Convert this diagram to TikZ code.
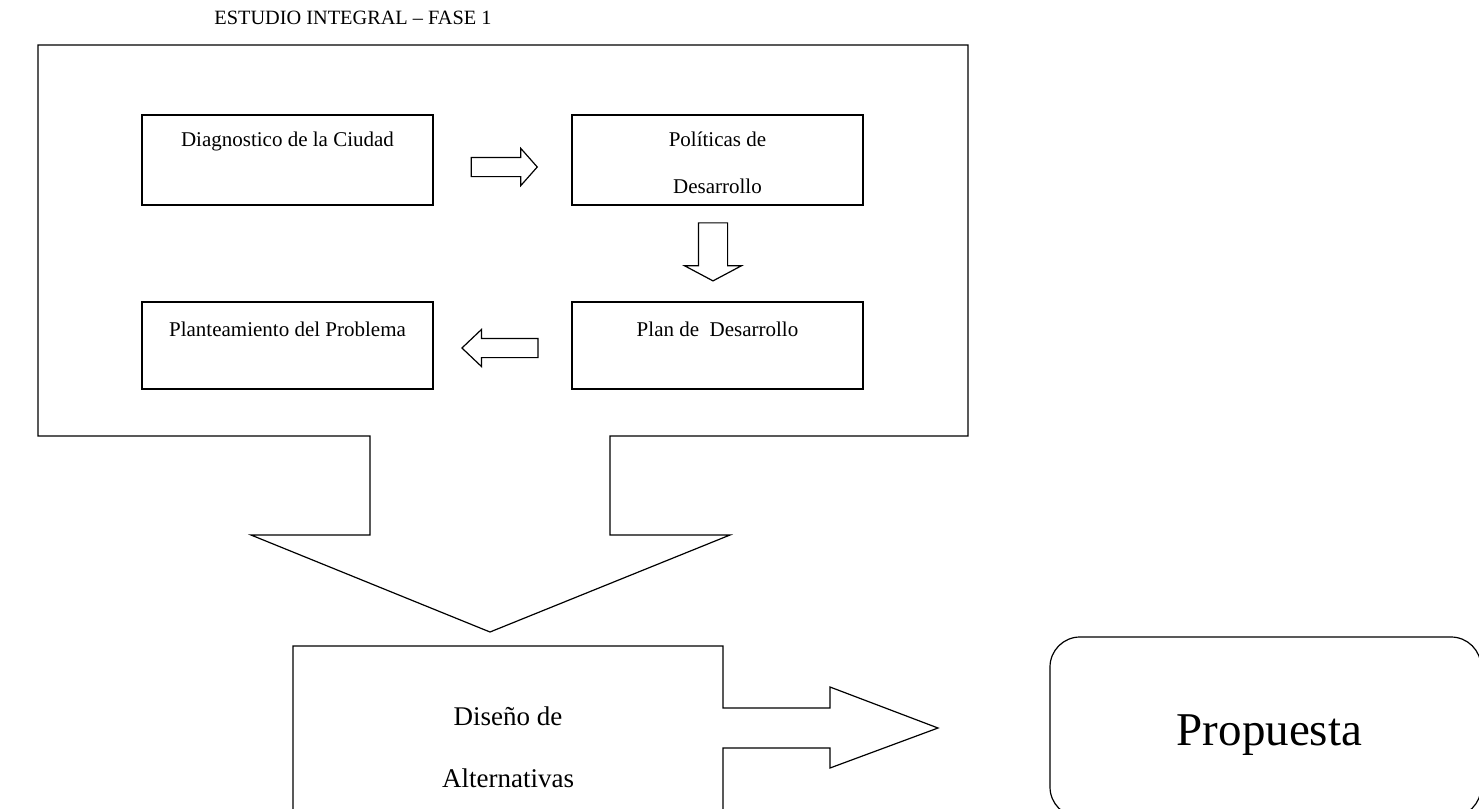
\documentclass[tikz,border=0pt]{standalone}
\usepackage{fontspec}
\setmainfont{Liberation Serif}
\usetikzlibrary{shapes.arrows,positioning,calc}

\begin{document}
\begin{tikzpicture}[
    x=1pt, y=-1pt,
    stagebox/.style={
        rectangle,
        draw=black,
        line width=1.2pt,
        minimum width=291pt,
        inner sep=0pt
    },
    stagetext/.style={font=\fontsize{21}{47}\selectfont, align=center, anchor=base},
    blockarrow/.style={
        single arrow,
        draw=black,
        line width=1.2pt,
        inner sep=0pt,
        text depth=0pt,
        single arrow head indent=0pt
    },
    outline/.style={draw=black, line width=1.2pt, line join=miter}
]
    \useasboundingbox (0,0) rectangle (1479,808);

    % Title
    \node[font=\fontsize{20.3}{24}\selectfont, anchor=base] (title) at (353,25) {ESTUDIO INTEGRAL -- FASE 1};

    % Stage boxes
    \node[stagebox, minimum height=90pt] (diag) at (287.5,160) {};
    \node[stagebox, minimum height=90pt] (pol) at (717.5,160) {};
    \node[stagebox, minimum height=87pt] (plan) at (717.5,345.5) {};
    \node[stagebox, minimum height=87pt] (plant) at (287.5,345.5) {};

    \node[stagetext] (diagtxt) at ($(diag.north)+(0,32)$) {Diagnostico de la Ciudad};
    \node[stagetext] (poltxt) at ($(pol.north)+(0,79)$) {Políticas de\\Desarrollo};
    \node[stagetext] (plantxt) at ($(plan.north)+(0,35)$) {Plan de~ Desarrollo};
    \node[stagetext] (planttxt) at ($(plant.north)+(0,35)$) {Planteamiento del Problema};

    % Small block arrows
    \node[blockarrow, text height=18pt, minimum height=66pt, single arrow head extend=9pt,
          single arrow tip angle=97] (a1) at (500,167) {};
    \node[blockarrow, text height=28pt, minimum height=58pt, single arrow head extend=14pt,
          single arrow tip angle=124, rotate=-90] (a2) at (713,248) {};
    \node[blockarrow, text height=18pt, minimum height=76pt, single arrow head extend=9pt,
          single arrow tip angle=87, rotate=180] (a3) at (505,348) {};

    % Outer frame opening into the big arrow
    \draw[outline] (370,535) -- (370,436) -- (38,436) -- (38,45) -- (968,45) -- (968,436)
        -- (610,436) -- (610,535) -- (730,535) -- (490,632) -- (251,535) -- cycle;

    % Design box with arrow towards the proposal
    \begin{scope}
        \clip (0,0) rectangle (1479,808);
        \draw[outline] (293,830) -- (293,646) -- (723,646) -- (723,708) -- (830,708) -- (830,687)
            -- (938,728) -- (830,768) -- (830,748) -- (723,748) -- (723,830);
        \draw[outline, rounded corners=30pt] (1050,637) rectangle (1481,817);
    \end{scope}
    \node[font=\fontsize{27}{62}\selectfont, align=center, anchor=base] (dis) at (508,787) {Diseño de\\Alternativas};
    \node[font=\fontsize{47}{56}\selectfont, anchor=base] (prop) at (1269.5,745) {Propuesta};
\end{tikzpicture}
\end{document}
